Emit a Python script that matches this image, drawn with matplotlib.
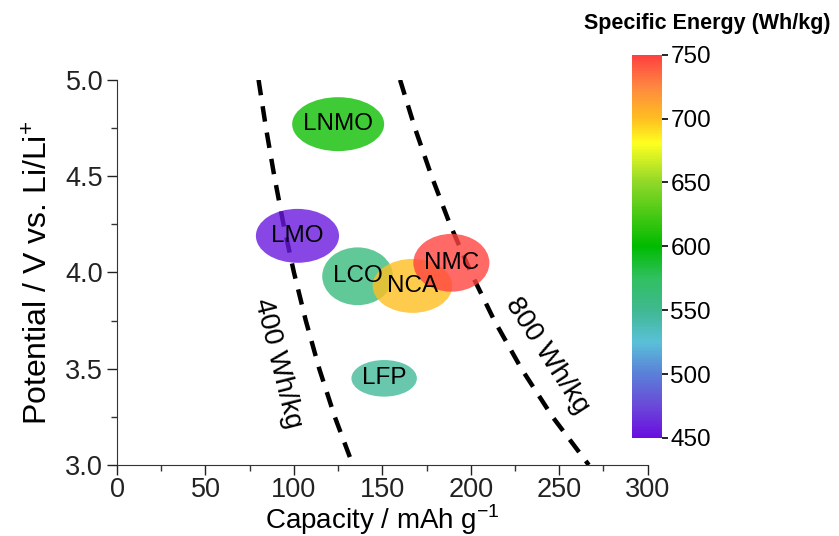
import matplotlib
matplotlib.use("Agg")
import matplotlib.pyplot as plt
from matplotlib.patches import Ellipse
from matplotlib.colors import LinearSegmentedColormap, Normalize
from matplotlib.ticker import MultipleLocator

plt.rcParams['font.family'] = ['Liberation Sans', 'DejaVu Sans']
plt.rcParams['mathtext.fontset'] = 'custom'
plt.rcParams['mathtext.rm'] = 'Liberation Sans'

# cathode materials: centre capacity / potential, spread, specific energy
materials = ['LNMO', 'LMO', 'LCO', 'NCA', 'NMC', 'LFP']
capacity = [125, 102, 136, 167, 189, 151]
potential = [4.77, 4.19, 3.98, 3.93, 4.05, 3.45]
cap_spread = [52, 47, 40, 45, 43, 37]
pot_spread = [0.28, 0.28, 0.30, 0.28, 0.30, 0.19]
energy = [605, 455, 560, 700, 748, 548]

# iso-energy lines
iso_pot = [5.0, 4.75, 4.5, 4.25, 4.0, 3.75, 3.5, 3.25, 3.0]
iso_400 = [80, 84.2, 88.9, 94.1, 100, 106.7, 114.3, 123.1, 133.3]
iso_800 = [160, 168.4, 177.8, 188.2, 200, 213.3, 228.6, 246.2, 266.7]

cbar_ticks = [450, 500, 550, 600, 650, 700, 750]

cmap = LinearSegmentedColormap.from_list('spec', [
    (0.0, '#6a0ee0'), (0.083, '#6a4ad8'), (0.167, '#5a80d8'),
    (0.25, '#5ac0d8'), (0.333, '#40b890'), (0.417, '#30c060'),
    (0.5, '#00bb00'), (0.667, '#90d828'), (0.77, '#ffff20'),
    (0.833, '#ffc020'), (0.917, '#ff8840'), (1.0, '#ff4040')])
norm = Normalize(450, 750)

fig = plt.figure(figsize=(8.39, 5.36), dpi=100)
ax = fig.add_axes([0.1395, 0.1325, 0.6325, 0.7185])

ax.plot(iso_400, iso_pot, color='black', lw=3.2, ls=(0, (3.5, 2.5)), zorder=1)
ax.plot(iso_800, iso_pot, color='black', lw=3.2, ls=(0, (3.5, 2.5)), zorder=1)

for i in range(len(materials)):
    e = Ellipse((capacity[i], potential[i]), cap_spread[i], pot_spread[i],
                facecolor=cmap(norm(energy[i])), edgecolor='none', alpha=0.8, zorder=2 + i)
    ax.add_patch(e)
    ax.text(capacity[i], potential[i], materials[i], ha='center', va='center',
            fontsize=17.5, zorder=10)

ax.text(91, 3.53, '400 Wh/kg', rotation=-76, ha='center', va='center', fontsize=20)
ax.text(243, 3.57, '800 Wh/kg', rotation=-57, ha='center', va='center', fontsize=20)

ax.set_xlim(0, 300)
ax.set_ylim(3.0, 5.0)
ax.xaxis.set_major_locator(MultipleLocator(50))
ax.xaxis.set_minor_locator(MultipleLocator(25))
ax.yaxis.set_major_locator(MultipleLocator(0.5))
ax.yaxis.set_minor_locator(MultipleLocator(0.25))
ax.spines['top'].set_visible(False)
ax.spines['right'].set_visible(False)
for s in ['left', 'bottom']:
    ax.spines[s].set_color('#333333')
ax.tick_params(which='major', length=7, width=1, labelsize=19.5, colors='#222222', pad=3)
ax.tick_params(axis='x', which='major', pad=2)
ax.tick_params(which='minor', length=4, width=1, colors='#333333')
ax.set_xlabel('Capacity / mAh g$^{-1}$', fontsize=20, labelpad=-1)
ax.set_ylabel('Potential / V vs. Li/Li$^{+}$', fontsize=23, labelpad=8)

cax = fig.add_axes([0.753, 0.183, 0.036, 0.715])
sm = matplotlib.cm.ScalarMappable(norm=norm, cmap=cmap)
cb = fig.colorbar(sm, cax=cax, ticks=cbar_ticks)
cb.outline.set_visible(False)
cax.tick_params(length=4, width=1.2, labelsize=17.5, pad=2)
fig.text(0.843, 0.957, 'Specific Energy (Wh/kg)', ha='center', va='center',
         fontsize=15.5, fontweight='bold')

fig.savefig('out.png', dpi=100)
